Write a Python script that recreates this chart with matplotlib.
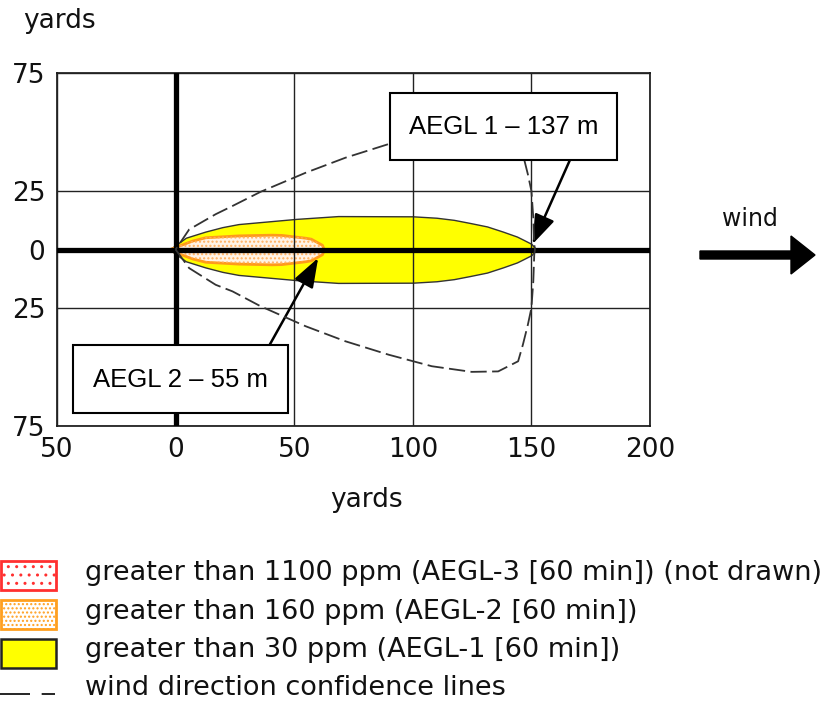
import numpy as np
import matplotlib
matplotlib.use("Agg")
from matplotlib import pyplot as plt
from matplotlib.patches import Rectangle

# footprint outlines (yards downwind, half width in yards)
aegl1_x  = [-2.6, 4.3, 12.5, 19.7, 26.5, 50.8, 68.5, 100, 110, 117.3, 124, 131.3, 138, 143.9, 146.5, 150, 152]
aegl1_hw = [0, 5.0, 7.6, 9.5, 10.8, 13.0, 14.2, 14.1, 13.5, 12.6, 11.3, 9.8, 7.6, 5.5, 4.2, 2.4, 0]

aegl2_x  = [-3, 7, 12.5, 26.5, 40.4, 44.6, 54.7, 57, 61.7, 62.5]
aegl2_hw = [0, 3.8, 5.2, 6.0, 6.3, 6.2, 5.0, 4.6, 2.0, 0]

# wind direction confidence lines
conf_x       = [0, 5.7, 16.9, 24, 35.8, 54.8, 71.6, 89.8, 108, 124.8, 136, 144.4, 146.4, 148.5, 150, 150.8, 151.2, 151.5]
conf_y_lower = [0, -7.9, -15, -17.8, -24.1, -32.6, -39, -44.7, -49.6, -52, -51.8, -47.5, -40.5, -32, -24.9, -13.5, -2.2, 0]
conf_y_upper = [0, 8.5, 15, 18.5, 24.5, 32.6, 39, 44.8, 49.6, 52, 51.8, 47.5, 40.5, 32, 24.9, 13.5, 2.2, 0]

xticks = [-50, 0, 50, 100, 150, 200]
xtick_labels = ["50", "0", "50", "100", "150", "200"]
yticks = [75, 25, 0, -25, -75]
ytick_labels = ["75", "25", "0", "25", "75"]

legend_labels = [
    "greater than 1100 ppm (AEGL-3 [60 min]) (not drawn)",
    "greater than 160 ppm (AEGL-2 [60 min])",
    "greater than 30 ppm (AEGL-1 [60 min])",
    "wind direction confidence lines",
]

fig = plt.figure(figsize=(8.36, 7.04), dpi=100)
ax = fig.add_axes([57/836, 1-426/704, 593/836, 353/704])
ax.set_xlim(-50, 200)
ax.set_ylim(-75, 75)

hw1 = np.array(aegl1_hw)
ax.fill_between(aegl1_x, -hw1, hw1, facecolor="#ffff00", edgecolor="#333333", lw=1, zorder=1)
hw2 = np.array(aegl2_hw)
ax.fill_between(aegl2_x, -hw2, hw2, facecolor="#fff3e6", edgecolor="#ff9a1a", lw=2, zorder=1.5)
ax.fill_between(aegl2_x, -hw2, hw2, facecolor="none", edgecolor="#ffb060", lw=0, hatch="....", zorder=1.6)

cx = conf_x + conf_x[::-1]
cy = conf_y_lower + conf_y_upper[::-1]
ax.plot(cx, cy, color="#333333", lw=1.3, dashes=(9, 3), zorder=4)

ax.set_xticks(xticks)
ax.set_xticklabels(xtick_labels)
ax.set_yticks(yticks)
ax.set_yticklabels(ytick_labels)
ax.tick_params(length=0, labelsize=19, labelcolor="#111111")
ax.tick_params(axis="y", pad=8.5)
ax.tick_params(axis="x", pad=8)
ax.grid(True, color="#222222", lw=1)
ax.set_axisbelow(False)
for s in ax.spines.values():
    s.set_linewidth(1.2)
    s.set_color("#111111")

ax.axhline(0, color="black", lw=3.8, zorder=3)
ax.axvline(0, color="black", lw=3.8, zorder=3)

arrow = dict(arrowstyle="-|>,head_length=0.9,head_width=0.32", color="black", lw=1.8,
             mutation_scale=20, shrinkA=0, shrinkB=0)
ax.annotate("", xy=(150.5, 2.3), xytext=(167.2, 40.2), arrowprops=arrow, annotation_clip=False)
ax.annotate("", xy=(60.1, -3.6), xytext=(39.6, -40.6), arrowprops=arrow, annotation_clip=False)

# overlay in pixel units for the boxes, wind arrow, labels and legend
ov = fig.add_axes([0, 0, 1, 1], facecolor="none")
ov.set_xlim(0, 836)
ov.set_ylim(704, 0)
ov.axis("off")

box_font = dict(family="Liberation Sans", size=18.5, ha="center", va="center")
ov.add_patch(Rectangle((390, 93), 227, 67, facecolor="white", edgecolor="black", lw=1.5))
ov.text(503.5, 127, "AEGL 1 – 137 m", **box_font)
ov.add_patch(Rectangle((73, 345), 215, 68, facecolor="white", edgecolor="black", lw=1.5))
ov.text(180.5, 380, "AEGL 2 – 55 m", **box_font)

ov.arrow(700, 255, 115, 0, width=8, head_width=38, head_length=24,
         length_includes_head=True, fc="black", ec="black")
ov.text(750, 219, "wind", fontsize=17, ha="center", va="center", color="#111111")

ov.text(59, 21, "yards", fontsize=19, ha="center", va="center", color="#111111")
ov.text(366, 500, "yards", fontsize=19, ha="center", va="center", color="#111111")

# legend
ov.add_patch(Rectangle((1, 561), 55, 29, facecolor="white", edgecolor="#ff3030", lw=2, hatch=".."))
ov.add_patch(Rectangle((1, 600), 55, 29, facecolor="white", edgecolor="#ffa020", lw=2, hatch="...."))
ov.add_patch(Rectangle((1, 639), 55, 29, facecolor="#ffff00", edgecolor="#222222", lw=1.8))
ov.plot([0, 55], [694, 694], color="black", lw=1.2, dashes=(18, 7))
for yy, lab in zip([573, 612, 650, 688], legend_labels):
    ov.text(85, yy, lab, fontsize=19.5, ha="left", va="center", color="#111111")

fig.savefig("out.png", dpi=100)
